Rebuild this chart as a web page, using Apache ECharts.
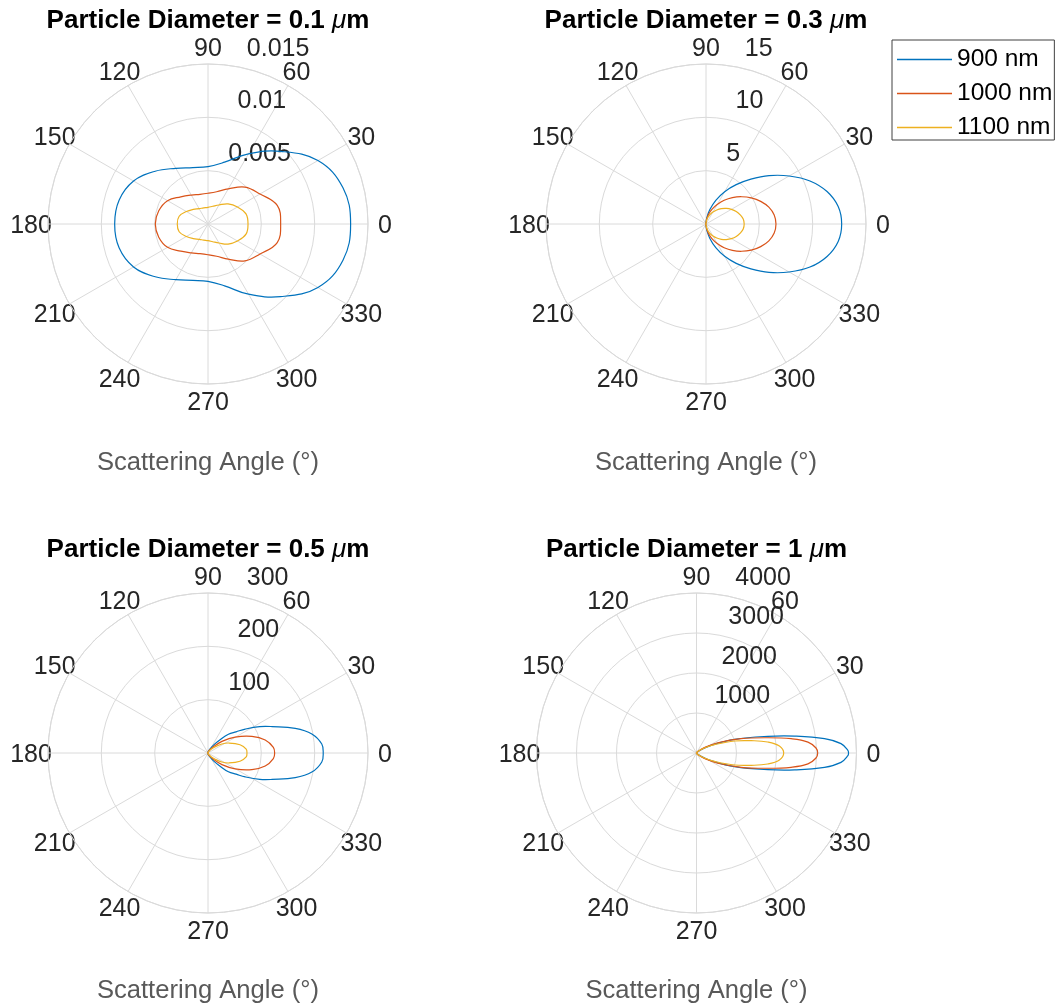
<!DOCTYPE html>
<html>
<head>
<meta charset="utf-8">
<script src="https://cdn.jsdelivr.net/npm/echarts@6/dist/echarts.min.js"></script>
<style>
  html, body { margin: 0; padding: 0; background: #ffffff; }
  #chart { width: 1062px; height: 1007px; }
</style>
</head>
<body>
<div id="chart"></div>
<script>
// Mie scattering intensity vs. scattering angle for four particle diameters
// and three wavelengths. The patterns are symmetric about the 0-180 deg line,
// so each curve is tabulated over 0..180 deg and mirrored for 180..360.

const wavelengths = ['900 nm', '1000 nm', '1100 nm'];
const lineColors = ['#0072BD', '#D95319', '#EDB120'];
const diameters = ['0.1', '0.3', '0.5', '1'];
const thetaTicks = [0, 30, 60, 90, 120, 150, 180, 210, 240, 270, 300, 330];

// ---- d = 0.1 um ----
const ang_d01   = [0, 15, 30, 45, 60, 75, 90, 105, 120, 135, 150, 165, 180];
const i900_d01  = [0.01337, 0.0131, 0.0119, 0.00963, 0.0076, 0.0060, 0.00538, 0.00547, 0.00603, 0.0070, 0.00806, 0.00863, 0.00875];
const i1000_d01 = [0.00681, 0.00672, 0.00563, 0.0049, 0.0038, 0.00313, 0.00288, 0.00288, 0.00313, 0.0036, 0.00438, 0.00478, 0.00494];
const i1100_d01 = [0.00375, 0.00369, 0.00319, 0.00266, 0.00206, 0.00172, 0.00156, 0.00156, 0.00166, 0.00194, 0.00234, 0.0028, 0.00288];
const rTicks_d01 = [0, 0.005, 0.01, 0.015];

// ---- d = 0.3 um ----
const ang_d03   = [0, 7.5, 15, 22.5, 30, 37.5, 45, 52.5, 60, 67.5, 75, 82.5, 90, 120, 180];
const i900_d03  = [12.72, 12.5, 11.75, 10.55, 9.0, 7.45, 5.95, 4.65, 3.5, 2.4, 1.4, 0.6, 0.15, 0.06, 0.05];
const i1000_d03 = [6.56, 6.45, 6.1, 5.55, 4.9, 4.2, 3.5, 2.8, 2.1, 1.5, 0.95, 0.4, 0.1, 0.05, 0.04];
const i1100_d03 = [3.58, 3.52, 3.32, 3.07, 2.75, 2.4, 2.03, 1.66, 1.3, 0.95, 0.6, 0.28, 0.06, 0.03, 0.03];
const rTicks_d03 = [0, 5, 10, 15];

// ---- d = 0.5 um ----
const ang900_d05  = [0, 4.5, 10.4, 15.8, 22.4, 27, 32.7, 37, 42.6, 48, 55, 65, 75, 90, 120, 180];
const i900_d05    = [216, 214, 198, 170, 130, 109, 83, 66, 52, 32, 18, 8, 4, 2, 1, 0.5];
const ang1000_d05 = [0, 4.9, 12.8, 20.7, 30.3, 39.8, 50, 60, 75, 90, 120, 180];
const i1000_d05   = [125, 123, 110, 88, 59, 34, 15, 7, 3, 1.5, 0.8, 0.4];
const ang1100_d05 = [0, 5.9, 14.5, 25.8, 33, 40.8, 50, 60, 75, 90, 120, 180];
const i1100_d05   = [73, 72, 62, 43, 31, 18, 9, 4, 1.5, 1, 0.6, 0.3];
const rTicks_d05 = [0, 100, 200, 300];

// ---- d = 1 um ----
const ang900_d1  = [0, 1, 3.7, 6.4, 9.8, 13.2, 19.8, 27.6, 35, 45, 60, 90, 120, 180];
const i900_d1    = [3800, 3785, 3620, 3220, 2490, 1830, 1010, 414, 150, 50, 15, 5, 3, 2];
const ang1000_d1 = [0, 2.4, 5.6, 8.6, 12.1, 17.8, 25.8, 32, 40, 50, 60, 90, 120, 180];
const i1000_d1   = [3030, 2990, 2800, 2390, 1820, 1170, 590, 300, 120, 40, 15, 5, 3, 2];
const ang1100_d1 = [0, 4.8, 8.8, 12.7, 17.5, 24.8, 32, 40, 50, 60, 90, 120, 180];
const i1100_d1   = [2180, 2080, 1800, 1400, 1000, 500, 250, 110, 38, 14, 5, 3, 2];
const rTicks_d1 = [0, 1000, 2000, 3000, 4000];

const panels = [
  { d: diameters[0], center: [208, 224], rTicks: rTicks_d01,
    curves: [[ang_d01, i900_d01], [ang_d01, i1000_d01], [ang_d01, i1100_d01]] },
  { d: diameters[1], center: [706, 224], rTicks: rTicks_d03,
    curves: [[ang_d03, i900_d03], [ang_d03, i1000_d03], [ang_d03, i1100_d03]] },
  { d: diameters[2], center: [208, 753], rTicks: rTicks_d05,
    curves: [[ang900_d05, i900_d05], [ang1000_d05, i1000_d05], [ang1100_d05, i1100_d05]] },
  { d: diameters[3], center: [696.5, 753], rTicks: rTicks_d1,
    curves: [[ang900_d1, i900_d1], [ang1000_d1, i1000_d1], [ang1100_d1, i1100_d1]] }
];

const FONT = '"Liberation Sans", Arial, Helvetica, sans-serif';
const TEXT = '#262626';
const GRID = '#dadada';
const RADIUS = 160;
const TICK_FS = 25;
const THETA_LABEL_R = 177;     // where the angle labels are centred
const THETA_MARGIN = -30;      // anchor radius for the axis' own alignment
const THETA_NUDGE_Y = 2.5;     // small downward nudge of the angle labels
const RLABEL_SHIFT = [0, -17.5];
const CURVE_SMOOTH = 0.4;

// [r, theta] pairs for a full turn (closed), mirroring the 0..180 table
function fullTurn(angles, values) {
  const pts = angles.map((a, i) => [values[i], a]);
  for (let i = angles.length - 2; i >= 1; i--) pts.push([values[i], 360 - angles[i]]);
  return pts;
}

// Padding per angle label so every label ends up centred on THETA_LABEL_R,
// given the left/right/top/bottom anchoring the angle axis picks by itself.
function thetaLabelRich() {
  const A = RADIUS + THETA_MARGIN;
  const rich = {};
  thetaTicks.forEach(t => {
    const rad = t * Math.PI / 180, c = Math.cos(rad), s = Math.sin(rad);
    const w = String(t).length * 0.556 * TICK_FS, h = TICK_FS;
    const ax = A * c, ay = A * s;
    const d = THETA_LABEL_R - A;
    let pt = 0, pr = 0, pb = 0, pl = 0;
    if (Math.abs(ax) / RADIUS >= 0.3) {
      const p = Math.max(0, d * Math.abs(c) - w / 2);
      if (ax > 0) pl = p; else pr = p;
    }
    if (Math.abs(ay) / RADIUS >= 0.3) {
      const p = Math.max(0, d * Math.abs(s) - h / 2);
      if (ay > 0) pb = Math.max(0, p - THETA_NUDGE_Y); else pt = p + THETA_NUDGE_Y;
    } else {
      pt = 2 * THETA_NUDGE_Y;
    }
    rich['t' + t] = { padding: [pt, pr, pb, pl] };
  });
  return rich;
}
const thetaRich = thetaLabelRich();

const polar = [], angleAxis = [], radiusAxis = [], series = [], title = [];

panels.forEach((p, k) => {
  const gridIdx = 2 * k, labelIdx = 2 * k + 1;
  const rMax = p.rTicks[p.rTicks.length - 1];
  const rStep = p.rTicks[1] - p.rTicks[0];

  polar.push({ center: p.center, radius: RADIUS });
  polar.push({ center: [p.center[0] + RLABEL_SHIFT[0], p.center[1] + RLABEL_SHIFT[1]], radius: RADIUS });

  angleAxis.push({
    polarIndex: gridIdx, type: 'value', min: 0, max: 360, interval: 30,
    startAngle: 0, clockwise: false,
    axisLine: { show: true, lineStyle: { color: GRID, width: 1 } },
    axisTick: { show: false },
    splitLine: { show: true, lineStyle: { color: GRID, width: 1 } },
    axisLabel: {
      show: true, margin: THETA_MARGIN, color: TEXT, fontSize: TICK_FS, fontFamily: FONT,
      rich: thetaRich,
      formatter: v => (thetaTicks.indexOf(v) >= 0 ? '{t' + v + '|' + v + '}' : '')
    }
  });
  // this angle axis only turns the r-tick labels to 80 deg
  angleAxis.push({
    polarIndex: labelIdx, type: 'value', min: 0, max: 360,
    startAngle: 80, clockwise: false, show: false
  });

  radiusAxis.push({
    polarIndex: gridIdx, type: 'value', min: 0, max: rMax, interval: rStep,
    axisLine: { show: false }, axisTick: { show: false }, axisLabel: { show: false },
    splitLine: { show: true, lineStyle: { color: GRID, width: 1 } }
  });
  radiusAxis.push({
    polarIndex: labelIdx, type: 'value', min: 0, max: rMax, interval: rStep,
    axisLine: { show: false }, axisTick: { show: false }, splitLine: { show: false },
    axisLabel: {
      show: true, margin: 0, color: TEXT, fontSize: TICK_FS, fontFamily: FONT,
      align: 'left', verticalAlign: 'middle', padding: [0, 0, 38, 11],
      formatter: v => (v === 0 ? '' : String(v))
    }
  });

  // each curve is one closed smooth outline through the polar axes' own mapping
  p.curves.forEach(([ang, vals], j) => {
    const pts = fullTurn(ang, vals);
    const color = lineColors[j];
    series.push({
      type: 'custom', name: wavelengths[j], coordinateSystem: 'polar', polarIndex: gridIdx,
      data: pts, itemStyle: { color: color }, z: 3, silent: true,
      renderItem: (params, api) => {
        if (params.dataIndex !== 0) return null;
        const outline = pts.map(d => { const c = api.coord(d); return [c[0], c[1]]; });
        return {
          type: 'polygon',
          shape: { points: outline, smooth: CURVE_SMOOTH },
          style: { fill: 'none', stroke: color, lineWidth: 1.2 }
        };
      }
    });
  });

  const isTop = k < 2;
  title.push({
    text: 'Particle Diameter = ' + p.d + ' {mu|μ}m',
    left: p.center[0], textAlign: 'center', top: isTop ? 8 : 537, padding: 0,
    textStyle: {
      fontFamily: FONT, fontSize: 26, fontWeight: 'bold', color: '#000',
      rich: { mu: { fontFamily: FONT, fontSize: 26, fontStyle: 'italic', fontWeight: 'normal', color: '#000' } }
    }
  });
  title.push({
    text: 'Scattering Angle (°)',
    left: p.center[0], textAlign: 'center', top: isTop ? 450 : 978, padding: 0,
    textStyle: { fontFamily: FONT, fontSize: 25.6, fontWeight: 'normal', color: '#595959' }
  });
});

const chart = echarts.init(document.getElementById('chart'), null, { renderer: 'canvas' });
chart.setOption({
  backgroundColor: '#ffffff',
  animation: false,
  title: title,
  legend: {
    data: wavelengths, orient: 'vertical', left: 892, top: 40,
    icon: 'rect', itemWidth: 55, itemHeight: 1.5, itemGap: 9,
    padding: [7, 2, 0, 5],
    borderColor: '#404040', borderWidth: 1, backgroundColor: '#ffffff',
    textStyle: { fontFamily: FONT, fontSize: 24.5, color: '#000' }
  },
  polar: polar,
  angleAxis: angleAxis,
  radiusAxis: radiusAxis,
  series: series
});
</script>
</body>
</html>
